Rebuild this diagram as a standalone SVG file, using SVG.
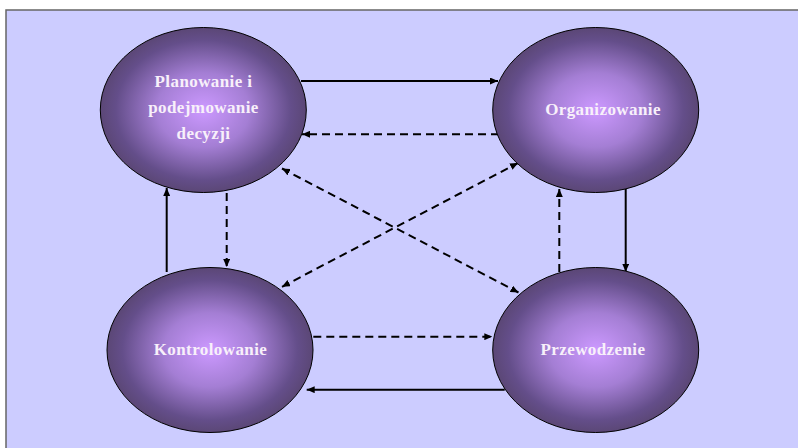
<svg xmlns="http://www.w3.org/2000/svg" width="798" height="448" viewBox="0 0 798 448">
<defs>
<radialGradient id="g" cx="50%" cy="50%" r="50%">
<stop offset="0" stop-color="#cc99ff"/>
<stop offset="0.45" stop-color="#a47ed4"/>
<stop offset="0.85" stop-color="#644e8a"/>
<stop offset="1" stop-color="#5b4776"/>
</radialGradient>
<marker id="ah" viewBox="0 0 8 7" refX="8" refY="3.5" markerWidth="8" markerHeight="7" markerUnits="userSpaceOnUse" orient="auto-start-reverse">
<path d="M0,0 L8,3.5 L0,7 z" fill="#000"/>
</marker>
<style>
.node{fill:url(#g);stroke:#000;stroke-width:1}
.lbl{font-family:"Liberation Serif","Times New Roman",serif;font-weight:bold;font-size:17px;letter-spacing:0.4px;fill:#f8f0fa;text-anchor:middle}
.solid{stroke:#000;stroke-width:2;fill:none;marker-end:url(#ah)}
.dash{stroke:#000;stroke-width:2;fill:none;stroke-dasharray:8,5;marker-end:url(#ah)}
.both{marker-start:url(#ah)}
</style>
</defs>
<rect x="0" y="0" width="798" height="448" fill="#ffffff"/>
<rect x="6" y="10" width="800" height="450" fill="#ccccff" stroke="#666666" stroke-width="1.5"/>
<g id="connectors">
<line class="solid" x1="301" y1="81" x2="498" y2="81"/>
<line class="dash" x1="499" y1="134.3" x2="302" y2="134.3"/>
<line class="dash both" x1="282" y1="168.5" x2="518.5" y2="292.5"/>
<line class="dash both" x1="282" y1="286.8" x2="518" y2="163"/>
<line class="solid" x1="166.7" y1="272" x2="166.7" y2="188"/>
<line class="dash" x1="226.7" y1="193" x2="226.7" y2="267"/>
<line class="dash" x1="559.3" y1="272" x2="559.3" y2="189"/>
<line class="solid" x1="625.7" y1="188.3" x2="625.7" y2="271.7"/>
<line class="dash" x1="313.3" y1="336.7" x2="492.3" y2="336.7"/>
<line class="solid" x1="504.7" y1="389.7" x2="306.7" y2="389.7"/>
</g>
<g id="planowanie">
<ellipse class="node" cx="203.3" cy="110" rx="103" ry="82.5"/>
<text class="lbl" x="203.5" y="87">Planowanie i</text>
<text class="lbl" x="203.5" y="113">podejmowanie</text>
<text class="lbl" x="203.5" y="138.5">decyzji</text>
</g>
<g id="organizowanie">
<ellipse class="node" cx="595.7" cy="110" rx="103" ry="82.5"/>
<text class="lbl" x="603" y="115">Organizowanie</text>
</g>
<g id="kontrolowanie">
<ellipse class="node" cx="210" cy="350" rx="103" ry="82.5"/>
<text class="lbl" x="210.5" y="355">Kontrolowanie</text>
</g>
<g id="przewodzenie">
<ellipse class="node" cx="595.7" cy="350" rx="103" ry="82.5"/>
<text class="lbl" x="593" y="355">Przewodzenie</text>
</g>
</svg>
